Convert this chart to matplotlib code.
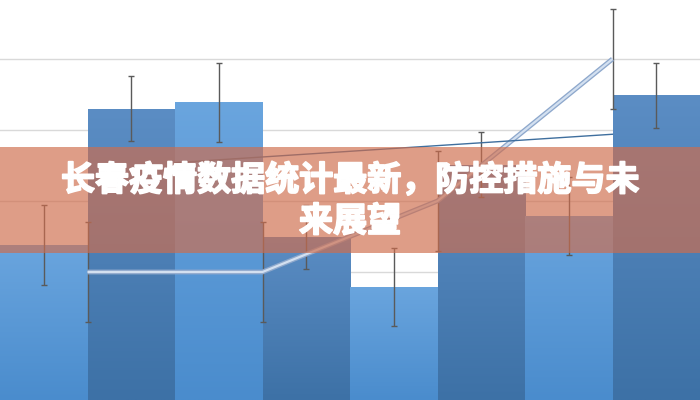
import numpy as np
import matplotlib
matplotlib.use('Agg')
import matplotlib.pyplot as plt
import matplotlib.patheffects as pe
from matplotlib.colors import LinearSegmentedColormap
from matplotlib.patches import Rectangle

plt.rcParams['font.family'] = ['Noto Sans CJK SC', 'DejaVu Sans']

# ---- data ----
bar_values = [2.38, 4.30, 4.39, 2.49, 1.79, 3.51, 2.79, 4.49]
bar_err = [0.56, 0.46, 0.56, 0.45, 0.55, 0.46, 0.55, 0.46]
trend_x = [1, 3, 5, 7]
trend_values = [2.0, 2.0, 3.0, 5.0]
trend_err = [0.7, 0.7, 0.7, 0.7]
thin_x = [2, 7]
thin_values = [3.54, 3.94]
grid_values = [1, 2, 3, 4, 5]
title_lines = ['长春疫情数据统计最新，防控措施与未', '来展望']

YMIN, YMAX = 0.197, 5.831

fig = plt.figure(figsize=(7, 4), dpi=100)
ax = fig.add_axes([0, 0, 1, 1])
ax.axis('off')

for g in grid_values:
    ax.axhline(g, color='#d9d9d9', lw=1, zorder=0)

x = np.arange(len(bar_values)) + 0.5
bars = ax.bar(x, bar_values, width=1.0, zorder=1, linewidth=0)
light = ('#6aa5de', '#4a8ccd')
dark = ('#5b8dc4', '#3d71a6')
grad = np.linspace(0, 1, 256).reshape(-1, 1)
for i, b in enumerate(bars):
    top, bot = light if i % 2 == 0 else dark
    cmap = LinearSegmentedColormap.from_list('g%d' % i, [top, bot])
    b.set_facecolor(bot)
    im = ax.imshow(grad, cmap=cmap,
                   extent=[b.get_x(), b.get_x() + b.get_width(), YMIN, b.get_height()],
                   aspect='auto', origin='upper', zorder=1.5)
    im.set_clip_path(b)

ax.errorbar(x, bar_values, yerr=bar_err, fmt='none',
            ecolor='#5a5a5a', elinewidth=1, capsize=2, capthick=1, zorder=3)

ax.errorbar(trend_x, trend_values, yerr=trend_err, fmt='none',
            ecolor='#5a5a5a', elinewidth=1, capsize=2, capthick=1, zorder=3)
ax.plot(trend_x, trend_values, color='#8ea8cc', lw=3.5, zorder=4,
        solid_capstyle='butt', solid_joinstyle='miter')
ax.plot(trend_x, trend_values, color='#d3e0f0', lw=1.6, zorder=4.1,
        solid_capstyle='butt', solid_joinstyle='miter')

ax.plot(thin_x, thin_values, color='#3f6f9e', lw=1, zorder=4.2)

ax.set_xlim(0, 8)
ax.set_ylim(YMIN, YMAX)

# banner overlay
banner = Rectangle((0, 1 - 253 / 400), 1, (253 - 147.5) / 400,
                   transform=fig.transFigure, facecolor=(207/255, 109/255, 76/255),
                   alpha=0.67, linewidth=0, zorder=10)
fig.add_artist(banner)

stroke = [pe.withStroke(linewidth=1.3, foreground='white')]
fig.text(0.5, 1 - 180 / 400, title_lines[0], ha='center', va='center',
         fontsize=24.5, fontweight='heavy', color='white', zorder=11,
         path_effects=stroke)
fig.text(0.5, 1 - 221 / 400, title_lines[1], ha='center', va='center',
         fontsize=24.5, fontweight='heavy', color='white', zorder=11,
         path_effects=stroke)

fig.savefig('out.png', dpi=100)
